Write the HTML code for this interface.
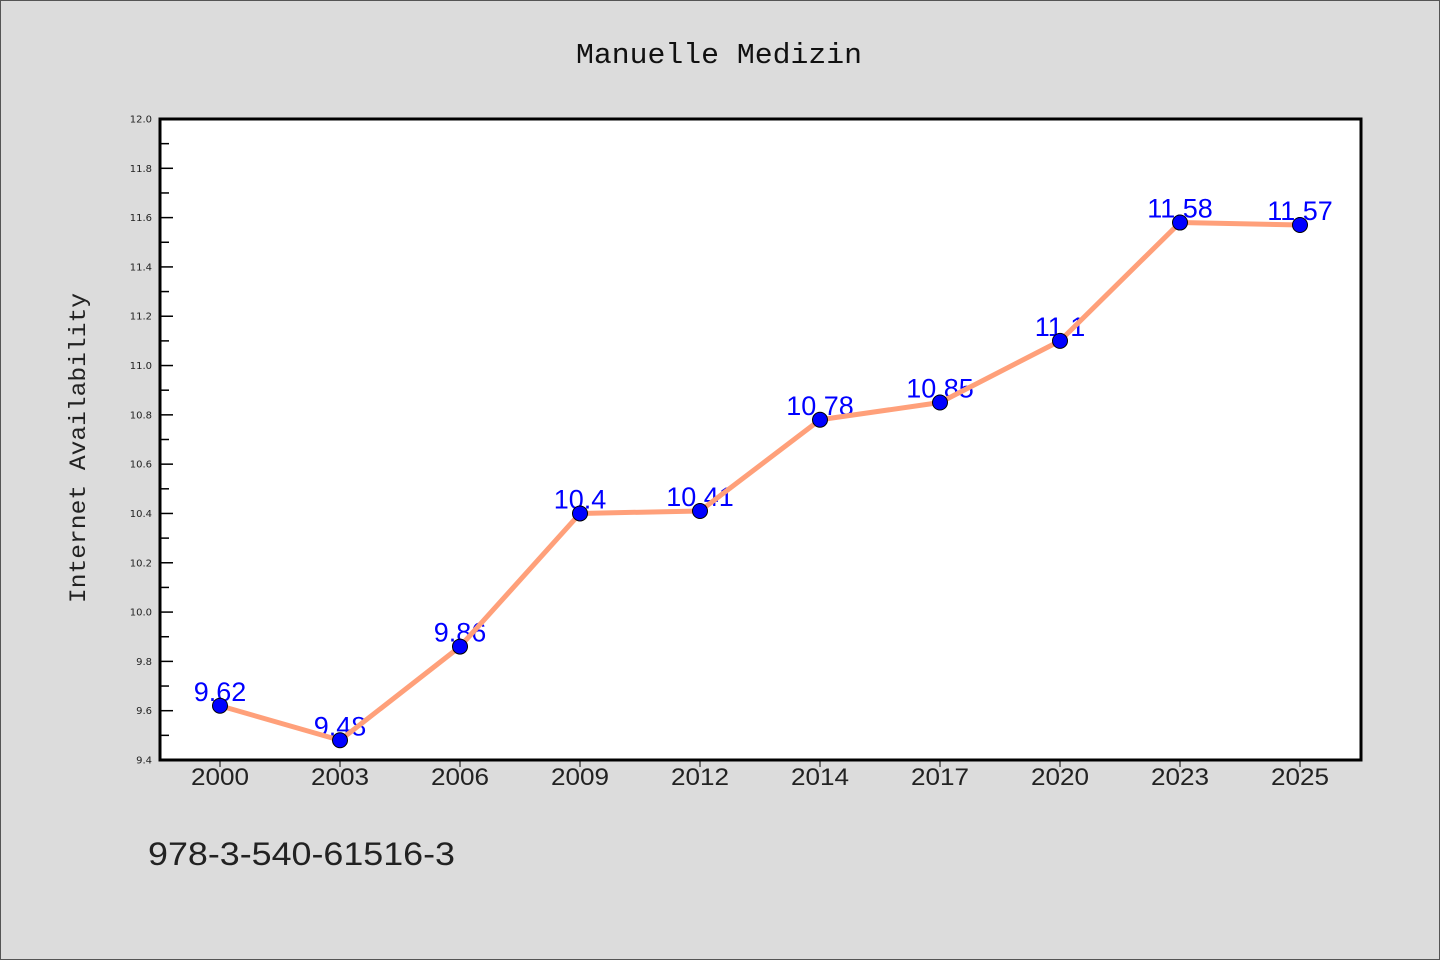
<!DOCTYPE html>
<html><head><meta charset="utf-8"><style>
html,body{margin:0;padding:0;background:#dcdcdc;}
svg{display:block;}
</style></head><body>
<svg id="chart" width="1440" height="960" xmlns="http://www.w3.org/2000/svg">
<rect x="0.5" y="0.5" width="1439" height="959" fill="#dcdcdc" stroke="#555" stroke-width="1"/>
<text x="576" y="63" textLength="286" lengthAdjust="spacingAndGlyphs" font-family="'Liberation Mono',monospace" font-size="29" fill="#111">Manuelle Medizin</text>
<text transform="translate(85,603) rotate(-90)" textLength="310" lengthAdjust="spacingAndGlyphs" font-family="'Liberation Mono',monospace" font-size="23" fill="#222">Internet Availability</text>
<text x="148" y="865" textLength="307" lengthAdjust="spacingAndGlyphs" font-family="'Liberation Sans',sans-serif" font-size="32" fill="#222">978-3-540-61516-3</text>
<rect x="160" y="119" width="1201" height="641" fill="#fff"/>
<g id="ticks"></g>
<g id="marks"></g>
<rect x="160" y="119" width="1201" height="641" fill="none" stroke="#000" stroke-width="3"/>
</svg>
<script>
const categories=["2000","2003","2006","2009","2012","2014","2017","2020","2023","2025"];
const values=[9.62,9.48,9.86,10.4,10.41,10.78,10.85,11.1,11.58,11.57];
const valueLabels=["9.62","9.48","9.86","10.4","10.41","10.78","10.85","11.1","11.58","11.57"];
const yTicks=[9.4,9.6,9.8,10.0,10.2,10.4,10.6,10.8,11.0,11.2,11.4,11.6,11.8,12.0];
const yMin=9.4,yMax=12.0;
const NS="http://www.w3.org/2000/svg";
function X(i){return 220+i*120;}
function Y(v){return 760-(v-yMin)/(yMax-yMin)*641;}
function mk(tag,attrs,parent){const e=document.createElementNS(NS,tag);for(const k in attrs)e.setAttribute(k,attrs[k]);parent.appendChild(e);return e;}
const tg=document.getElementById('ticks'),mg=document.getElementById('marks');
yTicks.forEach((t,i)=>{
  const y=Y(t);
  const l=mk('line',{x1:160,x2:173,y1:y,y2:y,stroke:'#000','stroke-width':1.5},tg);
  
  
  const tx=mk('text',{x:152,y:y+3.5,'text-anchor':'end','font-family':"'DejaVu Sans',sans-serif",'font-size':10,fill:'#222'},tg);
  tx.textContent=t.toFixed(1);
  
  
  if(i<yTicks.length-1){
    const ym=Y(t+0.1);
    const m=mk('line',{x1:160,x2:169,y1:ym,y2:ym,stroke:'#000','stroke-width':1.5},tg);
    
    
  }
});
categories.forEach((c,i)=>{
  const x=X(i);
  const l=mk('line',{x1:x,x2:x,y1:760,y2:767,stroke:'#000','stroke-width':1},tg);
  
  
  const tx=mk('text',{x:x-29,y:785,textLength:58,lengthAdjust:'spacingAndGlyphs','font-family':"'Liberation Sans',sans-serif",'font-size':24,fill:'#222'},tg);
  tx.textContent=c;
  
  
});
valueLabels.forEach((s,i)=>{
  const tx=mk('text',{x:X(i),y:Y(values[i])-5,'text-anchor':'middle','font-family':"'Liberation Sans',sans-serif",'font-size':27,fill:'#0000ff'},mg);
  tx.textContent=s;
  
  
});
const pts=values.map((v,i)=>X(i)+','+Y(v)).join(' ');
const pl=mk('polyline',{points:pts,fill:'none',stroke:'#ffa07a','stroke-width':5,'stroke-linejoin':'round'},mg);


values.forEach((v,i)=>{
  const c=mk('circle',{cx:X(i),cy:Y(v),r:7.5,fill:'#0000ff',stroke:'#000','stroke-width':1},mg);
  
  
});
</script>
</body></html>
